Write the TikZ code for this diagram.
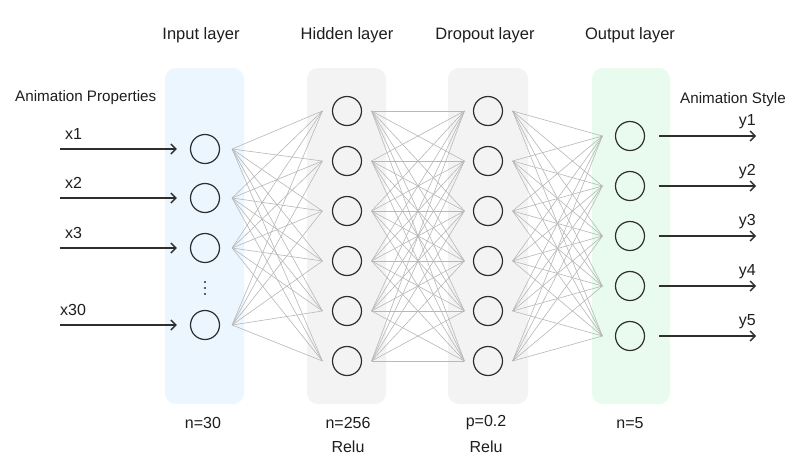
\documentclass[tikz,border=0pt]{standalone}
\usepackage{fontspec}
\setmainfont{Liberation Sans}
\usetikzlibrary{arrows.meta}
\definecolor{txt}{HTML}{1E1E1E}
\definecolor{ink}{HTML}{2E2E2E}
\definecolor{conn}{HTML}{B8B8B8}
\definecolor{pblue}{HTML}{EBF6FE}
\definecolor{pgray}{HTML}{F3F3F3}
\definecolor{pgreen}{HTML}{E9FBEF}
\tikzset{
  panel/.style={rounded corners=11pt, draw=none},
  neuron/.style={circle, draw=ink, line width=1.2pt, minimum size=29pt, inner sep=0pt},
  conline/.style={draw=conn, line width=0.6pt},
  ioarrow/.style={draw=ink, line width=1.4pt, -{Straight Barb[length=5pt,width=10pt,line width=1.4pt]}},
  title/.style={text=txt, font=\fontsize{16.5}{19}\selectfont},
  label/.style={text=txt, font=\fontsize{16}{19}\selectfont},
  small/.style={text=txt, font=\fontsize{15.2}{18}\selectfont},
}
\begin{document}
\begin{tikzpicture}[x=1pt,y=-1pt]
\useasboundingbox (0,0) rectangle (800,472);
\fill[white] (0,0) rectangle (800,472);
% panels
\fill[panel, pblue] (165,68) rectangle (244,404);
\fill[panel, pgray] (307,68) rectangle (386,404);
\fill[panel, pgray] (448,68) rectangle (528,404);
\fill[panel, pgreen] (592,68) rectangle (670,404);
% titles
\node[title] (tin) at (201,35) {Input layer};
\node[title] (thid) at (347,35) {Hidden layer};
\node[title] (tdrop) at (485,35) {Dropout layer};
\node[title] (tout) at (630,35) {Output layer};
% bottom labels
\node[label] (bin) at (203,423) {n=30};
\node[label] (bhid) at (348,423) {n=256};
\node[label] (bdrop) at (486,423) {p=0.2};
\node[label] (bout) at (630,423) {n=5};
\node[label] (rhid) at (348,447) {Relu};
\node[label] (rdrop) at (486,447) {Relu};
% side titles
\node[small, anchor=west, inner sep=0pt] (aprop) at (15,98) {Animation Properties};
\node[small, anchor=west, inner sep=0pt] (astyle) at (680,100) {Animation Style};
% input neurons
\node[neuron] (i1) at (205,149) {};
\node[neuron] (i2) at (205,198) {};
\node[neuron] (i3) at (205,248) {};
\node[neuron] (i4) at (205,325) {};
\fill[ink] (205,282) circle (1.1) (205,288) circle (1.1) (205,294) circle (1.1);
% hidden
\foreach \k/\y in {1/111,2/161,3/211,4/261,5/311,6/361}{
  \node[neuron] (h\k) at (347,\y) {};
  \node[neuron] (d\k) at (488,\y) {};
}
% output
\foreach \k/\y in {1/136,2/186,3/236,4/286,5/336}{
  \node[neuron] (o\k) at (630,\y) {};
}
% connections
\foreach \a in {1,2,3,4}{
  \foreach \b in {1,...,6}{
    \draw[conline] ([xshift=12pt]i\a.east) -- ([xshift=-9.5pt]h\b.west);
  }
}
\foreach \a in {1,...,6}{
  \foreach \b in {1,...,6}{
    \draw[conline] ([xshift=9.5pt]h\a.east) -- ([xshift=-8.5pt]d\b.west);
  }
}
\foreach \a in {1,...,6}{
  \foreach \b in {1,...,5}{
    \draw[conline] ([xshift=9.5pt]d\a.east) -- ([xshift=-12.5pt]o\b.west);
  }
}
% input arrows
\foreach \k/\y/\lx/\t in {1/149/65/x1,2/198/65/x2,3/248/65/x3,4/325/60/x30}{
  \coordinate (s\k) at (60,\y);
  \draw[ioarrow] (s\k) -- ([xshift=-13pt]i\k.west);
  \node[label, anchor=west, inner sep=0pt] (xl\k) at (\lx,\y-15) {\t};
}
% output arrows
\foreach \k/\y in {1/136,2/186,3/236,4/286,5/336}{
  \coordinate (e\k) at (756,\y);
  \draw[ioarrow] ([xshift=14pt]o\k.east) -- (e\k);
  \node[label, anchor=east, inner sep=0pt] (yl\k) at (756,\y-14) {y\k};
}
\end{tikzpicture}
\end{document}
